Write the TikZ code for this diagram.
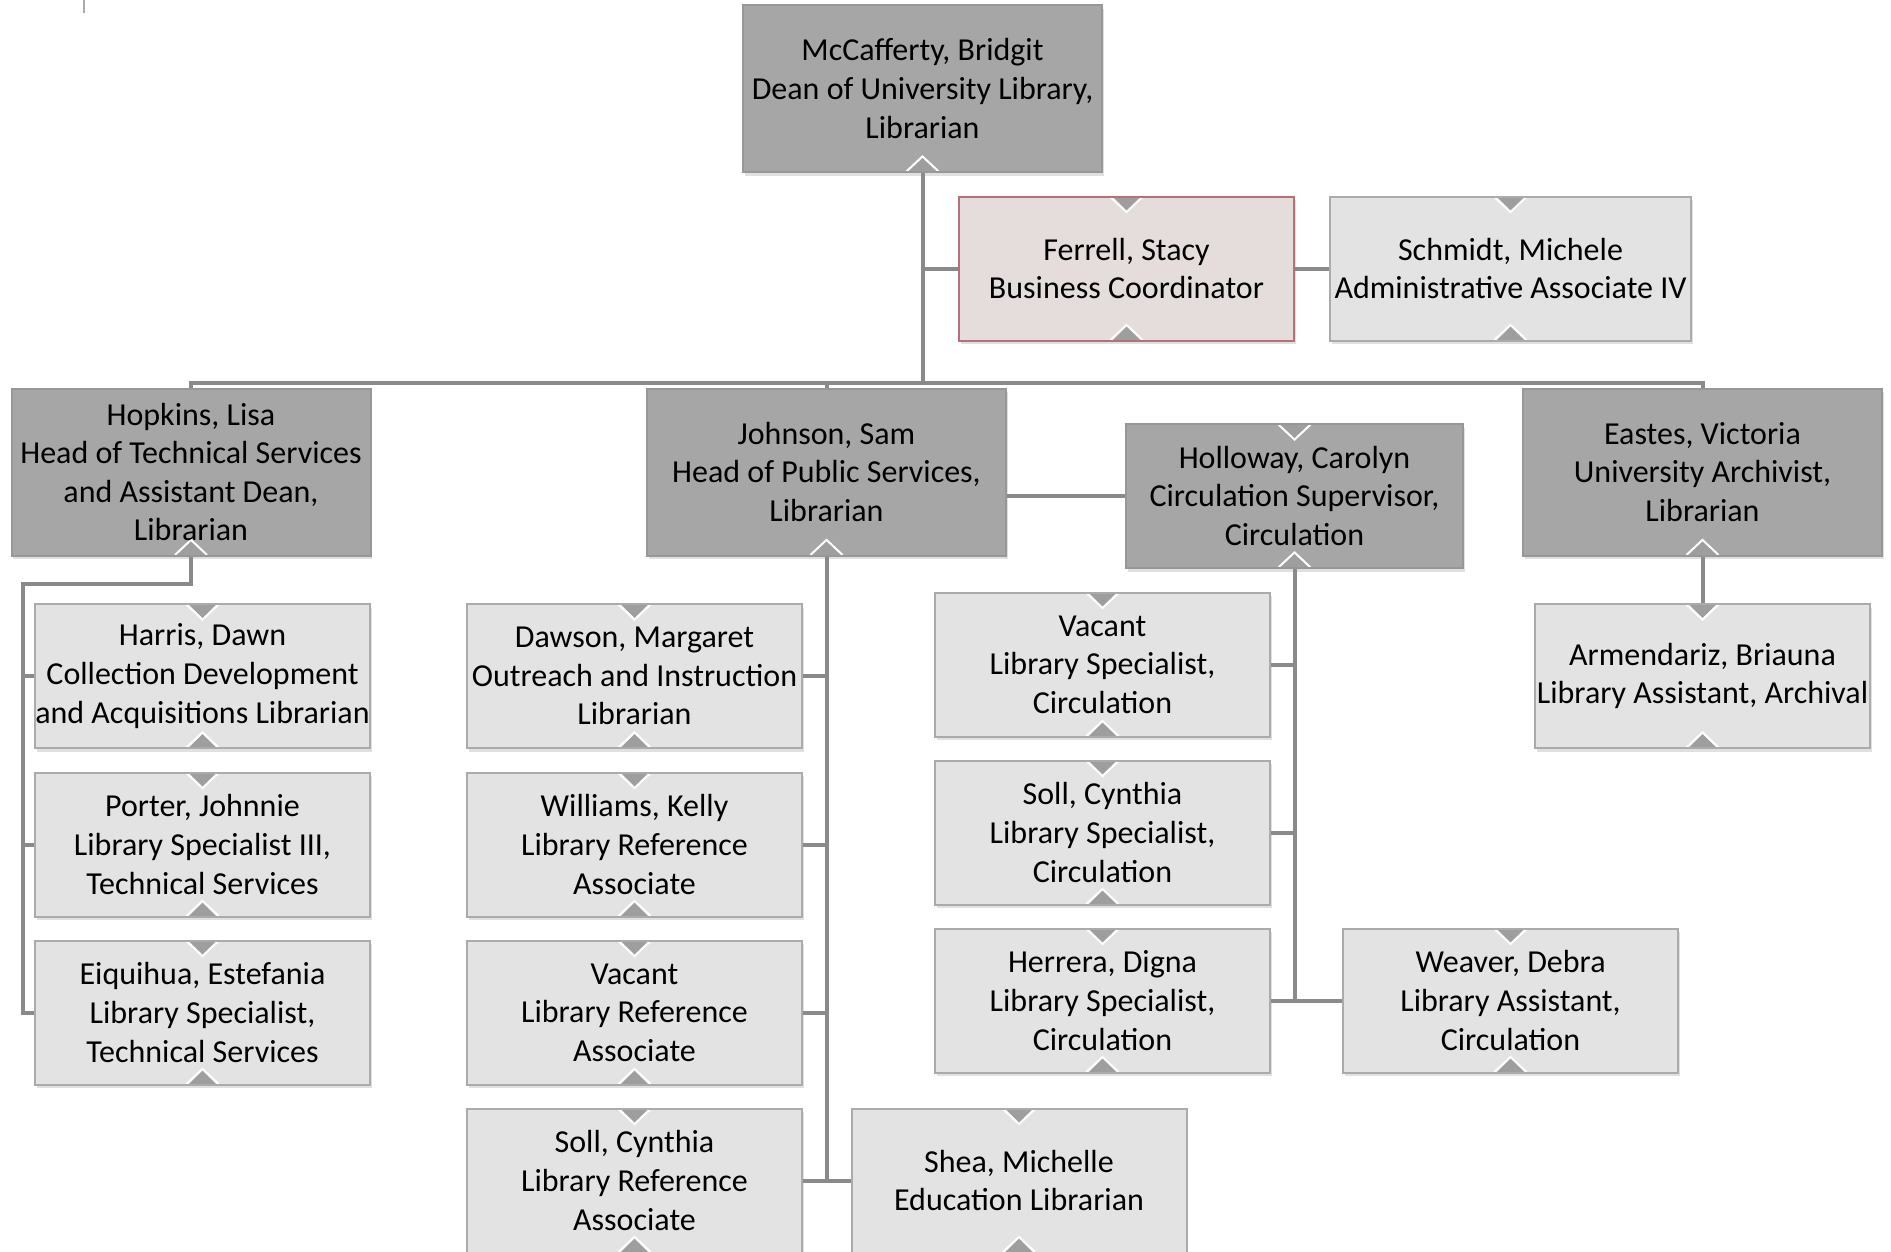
\documentclass[tikz,border=0pt]{standalone}
\usepackage{fontspec}
\setmainfont{Carlito}
\usetikzlibrary{shadows}

\definecolor{headfill}{HTML}{A6A6A6}
\definecolor{headline}{HTML}{979797}
\definecolor{stafffill}{HTML}{E3E3E3}
\definecolor{staffline}{HTML}{ABABAB}
\definecolor{bizfill}{HTML}{E5DCDC}
\definecolor{bizline}{HTML}{B7707A}
\definecolor{connline}{HTML}{8A8A8A}
\definecolor{cutfill}{HTML}{9E9E9E}

\newcommand{\topcut}{%
  \fill[cutfill] ([xshift=-7pt]path picture bounding box.north) -- ([xshift=7pt]path picture bounding box.north) -- ([yshift=-7pt]path picture bounding box.north) -- cycle;
  \draw[white, line width=1pt] ([xshift=-8pt,yshift=-0.3pt]path picture bounding box.north) -- ([yshift=-7.8pt]path picture bounding box.north) -- ([xshift=8pt,yshift=-0.3pt]path picture bounding box.north);}
\newcommand{\botcut}{%
  \fill[cutfill] ([xshift=-7pt]path picture bounding box.south) -- ([xshift=7pt]path picture bounding box.south) -- ([yshift=7pt]path picture bounding box.south) -- cycle;
  \draw[white, line width=1pt] ([xshift=-8pt,yshift=0.3pt]path picture bounding box.south) -- ([yshift=7.8pt]path picture bounding box.south) -- ([xshift=8pt,yshift=0.3pt]path picture bounding box.south);}

\begin{document}
\begin{tikzpicture}[x=0.5pt, y=-0.5pt,
    every node/.style={font=\fontsize{16}{19.3}\selectfont, align=center, inner sep=0pt},
    box/.style={rectangle, line width=1pt, minimum width=167.5pt, minimum height=72pt,
      drop shadow={shadow xshift=0.8pt, shadow yshift=-1.8pt, opacity=0.12, fill=black}},
    bottomcut/.style={path picture={\botcut}},
    bothcuts/.style={path picture={\topcut\botcut}},
    head/.style={box, draw=headline, fill=headfill, minimum width=179.5pt, minimum height=83.5pt, bottomcut},
    staff/.style={box, draw=staffline, fill=stafffill, bothcuts},
    conn/.style={draw=connline, line width=2pt}]
  \useasboundingbox (0,0) rectangle (1891,1252);
  \draw[staffline, line width=0.6pt] (84,0) -- (84,13);

  \node[head] (dean) at (922.5,88.5) {McCafferty, Bridgit\\Dean of University Library,\\Librarian};
  \node[box, draw=bizline, fill=bizfill, bothcuts] (ferrell) at (1126.5,268.5) {Ferrell, Stacy\\Business Coordinator};
  \node[staff, minimum width=180.5pt] (schmidt) at (1510.5,268.5) {Schmidt, Michele\\Administrative Associate IV};

  \node[head] (hopkins) at (191,472) {Hopkins, Lisa\\Head of Technical Services\\and Assistant Dean,\\Librarian};
  \node[head] (johnson) at (826.5,472) {Johnson, Sam\\Head of Public Services,\\Librarian};
  \node[head, minimum width=168.5pt, minimum height=72pt, bothcuts] (holloway) at (1294.5,496) {Holloway, Carolyn\\Circulation Supervisor,\\Circulation};
  \node[head] (eastes) at (1702.5,472) {Eastes, Victoria\\University Archivist,\\Librarian};

  \node[staff] (harris) at (202.5,676) {Harris, Dawn\\Collection Development\\and Acquisitions Librarian};
  \node[staff] (porter) at (202.5,844.5) {Porter, Johnnie\\Library Specialist III,\\Technical Services};
  \node[staff] (eiquihua) at (202.5,1012.5) {Eiquihua, Estefania\\Library Specialist,\\Technical Services};

  \node[staff] (dawson) at (634.5,676) {Dawson, Margaret\\Outreach and Instruction\\Librarian};
  \node[staff] (williams) at (634.5,844.5) {Williams, Kelly\\Library Reference\\Associate};
  \node[staff] (vacantref) at (634.5,1012.5) {Vacant\\Library Reference\\Associate};
  \node[staff] (sollref) at (634.5,1180.5) {Soll, Cynthia\\Library Reference\\Associate};
  \node[staff] (shea) at (1019,1180.5) {Shea, Michelle\\Education Librarian};

  \node[staff] (vacantcirc) at (1102.5,664.5) {Vacant\\Library Specialist,\\Circulation};
  \node[staff] (sollcirc) at (1102.5,832.5) {Soll, Cynthia\\Library Specialist,\\Circulation};
  \node[staff] (herrera) at (1102.5,1000.5) {Herrera, Digna\\Library Specialist,\\Circulation};
  \node[staff] (weaver) at (1510.5,1000.5) {Weaver, Debra\\Library Assistant,\\Circulation};

  \node[staff] (armendariz) at (1702.5,676) {Armendariz, Briauna\\Library Assistant, Archival};

  \coordinate (bus) at (0,383);
  \coordinate (tsbus) at (23,584);
  \draw[conn] (dean.south) -- (dean.south |- bus);
  \draw[conn] (hopkins.north) -- (hopkins.north |- bus) -| (eastes.north);
  \draw[conn] (johnson.north) -- (johnson.north |- bus);
  \draw[conn] (ferrell.west) -- (ferrell.west -| dean.south);
  \draw[conn] (ferrell.east) -- (schmidt.west);
  \draw[conn] (holloway.west) -- (holloway.west -| johnson.east);

  \draw[conn] (hopkins.south) |- (tsbus) |- (eiquihua.west);
  \draw[conn] (harris.west) -- (harris.west -| tsbus);
  \draw[conn] (porter.west) -- (porter.west -| tsbus);

  \draw[conn] (johnson.south) -- (johnson.south |- shea.west);
  \draw[conn] (dawson.east) -- (dawson.east -| johnson.south);
  \draw[conn] (williams.east) -- (williams.east -| johnson.south);
  \draw[conn] (vacantref.east) -- (vacantref.east -| johnson.south);
  \draw[conn] (sollref.east) -- (shea.west);

  \draw[conn] (holloway.south) -- (holloway.south |- herrera.east);
  \draw[conn] (vacantcirc.east) -- (vacantcirc.east -| holloway.south);
  \draw[conn] (sollcirc.east) -- (sollcirc.east -| holloway.south);
  \draw[conn] (herrera.east) -- (weaver.west);

  \draw[conn] (eastes.south) -- (armendariz.north);
\end{tikzpicture}
\end{document}
